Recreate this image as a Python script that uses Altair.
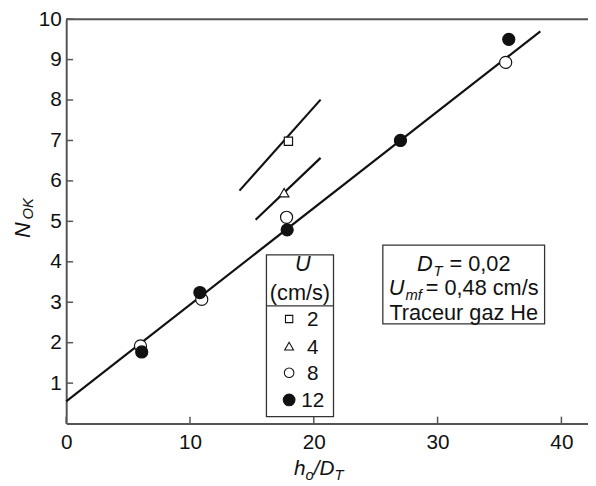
import altair as alt
import pandas as pd

# ---------------- data ----------------
u2_x = [17.95]
u2_y = [6.98]
u4_x = [17.6]
u4_y = [5.71]
u8_x = [6.0, 10.95, 17.8, 35.5]
u8_y = [1.92, 3.07, 5.10, 8.93]
u12_x = [6.1, 10.8, 17.85, 27.0, 35.75]
u12_y = [1.77, 3.24, 4.79, 7.0, 9.5]

fit_main_x = [0.0, 38.3]
fit_main_y = [0.55, 9.70]
fit_u2_x = [14.0, 20.55]
fit_u2_y = [5.76, 8.01]
fit_u4_x = [15.3, 20.55]
fit_u4_y = [5.04, 6.57]

x_ticks = [0, 10, 20, 30, 40]
y_ticks = [1, 2, 3, 4, 5, 6, 7, 8, 9, 10]

legend_title = ["U", "(cm/s)"]
legend_labels = ["2", "4", "8", "12"]
box_lines = [["D", "T", "= 0,02"], ["U", "mf", "= 0,48 cm/s"], ["Traceur gaz He"]]
x_title = ["h", "o", "/D", "T"]
y_title = ["N", "OK"]

# ---------------- layout ----------------
W, H = 529, 410
FONT = "Liberation Sans"
INK = "#111111"
AX = "#555555"

xs = alt.Scale(domain=[0, 42.15], nice=False, zero=False)
ys = alt.Scale(domain=[0, 10], nice=False, zero=False)

AW = {" ": 278, "(": 333, ")": 333, ",": 278, ".": 278, "/": 278, "=": 584,
      "D": 722, "H": 722, "T": 611, "U": 722, "N": 722, "O": 778, "K": 667,
      "a": 556, "c": 500, "e": 556, "f": 278, "g": 556, "h": 556, "m": 833,
      "o": 556, "r": 333, "s": 500, "u": 556, "z": 500}


def tw(s, size):
    return sum(AW.get(ch, 556) for ch in s) * size / 1000.0


def txt(s, x, y, size, italic=False, align="left", angle=None, baseline="alphabetic"):
    kw = dict(align=align, baseline=baseline, fontSize=size, font=FONT, color=INK)
    if italic:
        kw["fontStyle"] = "italic"
    if angle is not None:
        kw["angle"] = angle
    return alt.Chart(pd.DataFrame({"t": [s]})).mark_text(**kw).encode(
        text="t:N", x=alt.value(x), y=alt.value(y))


def X(f="x"):
    return alt.X(f + ":Q", scale=xs, title=None)


def Y(f="y"):
    return alt.Y(f + ":Q", scale=ys, title=None)


layers = []

# top frame line
layers.append(
    alt.Chart(pd.DataFrame({"v": [10]})).mark_rule(color=AX, strokeWidth=2).encode(
        y=Y("v"), x=alt.value(0), x2=alt.value(W))
)

# inner ticks
layers.append(
    alt.Chart(pd.DataFrame({"v": y_ticks})).mark_rule(color=AX, strokeWidth=1.5).encode(
        y=Y("v"), x=alt.value(0), x2=alt.value(7))
)
layers.append(
    alt.Chart(pd.DataFrame({"v": x_ticks})).mark_rule(color=AX, strokeWidth=1.5).encode(
        x=X("v"), y=alt.value(H), y2=alt.value(H - 7))
)

# fitted lines
fits = pd.DataFrame({
    "x": fit_main_x + fit_u2_x + fit_u4_x,
    "y": fit_main_y + fit_u2_y + fit_u4_y,
    "g": ["main"] * 2 + ["u2"] * 2 + ["u4"] * 2,
})
layers.append(
    alt.Chart(fits).mark_line(color="#111", strokeWidth=2.2).encode(
        x=alt.X("x:Q", scale=xs, title=None,
                axis=alt.Axis(values=x_ticks, ticks=False, grid=False, labelFontSize=21,
                              labelFont=FONT, labelColor=INK, labelPadding=8,
                              domainColor=AX, domainWidth=2, labelFlush=False)),
        y=alt.Y("y:Q", scale=ys, title=None,
                axis=alt.Axis(values=y_ticks, ticks=False, grid=False, labelFontSize=21,
                              labelFont=FONT, labelColor=INK, labelPadding=5,
                              domainColor=AX, domainWidth=2, labelFlush=False)),
        detail="g:N",
    )
)

# data points
def pts(xv, yv, shape, fill, size):
    return alt.Chart(pd.DataFrame({"x": xv, "y": yv})).mark_point(
        shape=shape, filled=True, fill=fill, stroke="#111", strokeWidth=1.2,
        size=size, opacity=1).encode(x=X(), y=Y())

layers.append(pts(u2_x, u2_y, "square", "white", 70))
layers.append(pts(u4_x, u4_y, "triangle-up", "white", 95))
layers.append(pts(u8_x, u8_y, "circle", "white", 150))
layers.append(pts(u12_x, u12_y, "circle", "#111", 150))

# ---------------- legend box ----------------
lx0, lx1, ly0, ly1 = 203, 271, 239, 403
layers.append(
    alt.Chart(pd.DataFrame({"a": [0]})).mark_rect(fill="white", stroke="#333", strokeWidth=1.3).encode(
        x=alt.value(lx0), x2=alt.value(lx1), y=alt.value(ly0), y2=alt.value(ly1))
)
layers.append(
    alt.Chart(pd.DataFrame({"a": [0]})).mark_rule(color="#333", strokeWidth=1.3).encode(
        x=alt.value(lx0), x2=alt.value(lx1), y=alt.value(290.7))
)
layers.append(txt(legend_title[0], 240, 255, 22, italic=True, align="center"))
layers.append(txt(legend_title[1], 237, 284.5, 22, align="center"))
sym = [("square", "white", 55), ("triangle-up", "white", 80), ("circle", "white", 95), ("circle", "#111", 140)]
rows_y = [304, 331.5, 358.5, 386]
for (shp, fl, sz), ry, lab in zip(sym, rows_y, legend_labels):
    layers.append(
        alt.Chart(pd.DataFrame({"a": [0]})).mark_point(
            shape=shp, filled=True, fill=fl, stroke="#111", strokeWidth=1.1, size=sz, opacity=1
        ).encode(x=alt.value(226), y=alt.value(ry))
    )
    layers.append(txt(lab, 250, ry + 7.5, 21, align="center"))

# ---------------- text box ----------------
bx0, bx1, by0, by1 = 321, 485, 229, 309
layers.append(
    alt.Chart(pd.DataFrame({"a": [0]})).mark_rect(fill="white", stroke="#333", strokeWidth=1.3).encode(
        x=alt.value(bx0), x2=alt.value(bx1), y=alt.value(by0), y2=alt.value(by1))
)
cx = (bx0 + bx1) / 2.0
BS, SS = 22, 15
base = [255.5, 279.5, 304.5]
gaps = [7, 4]
pre = 1.0
for i in range(2):
    main, sub, rest = box_lines[i]
    gap = gaps[i]
    total = tw(main, BS) + pre + tw(sub, SS) + gap + tw(rest, BS)
    x0 = cx - total / 2.0
    layers.append(txt(main, x0, base[i], BS, italic=True))
    x1 = x0 + tw(main, BS) + pre
    layers.append(txt(sub, x1, base[i] + 5, SS, italic=True))
    x2 = x1 + tw(sub, SS) + gap
    layers.append(txt(rest, x2, base[i], BS))
layers.append(txt(box_lines[2][0], cx, base[2], BS, align="center"))

# ---------------- axis titles ----------------
# x title: h_o/D_T
tx = 231
layers.append(txt(x_title[0], tx, 462, 21, italic=True))
tx += tw(x_title[0], 21)
layers.append(txt(x_title[1], tx, 467, 15, italic=True))
tx += tw(x_title[1], 15)
layers.append(txt(x_title[2], tx, 462, 21, italic=True))
tx += tw(x_title[2], 21)
layers.append(txt(x_title[3], tx, 467, 15, italic=True))

# y title: N_OK (rotated)
layers.append(txt(y_title[0], -37, 222, 22, italic=True, angle=270))
layers.append(txt(y_title[1], -33.5, 222 - tw(y_title[0], 22) - 3, 15, italic=True, angle=270))

chart = alt.layer(*layers).properties(
    width=W, height=H,
    padding={"left": 59, "top": 8, "right": 0, "bottom": 60},
    autosize=alt.AutoSizeParams(type="none"),
).configure_view(stroke=None).configure(background="white")

chart.save("out.html", embed_options={"renderer": "svg", "actions": False})
